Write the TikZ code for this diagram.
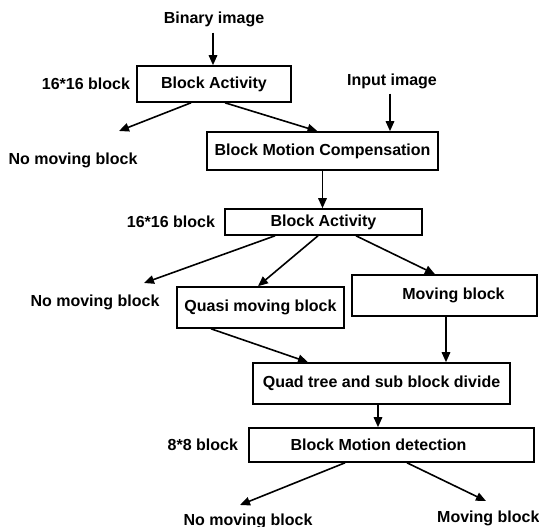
\documentclass[tikz,border=0pt]{standalone}
\usepackage{fontspec}
\setmainfont{Liberation Sans}
\usetikzlibrary{arrows.meta,calc}
\begin{document}
\begin{tikzpicture}[x=1pt,y=-1pt,
  every node/.style={font=\fontsize{16}{18}\selectfont\bfseries, inner sep=0pt},
  box/.style={draw, line width=1.6pt, anchor=center},
  arr/.style={line width=1.6pt, -{Triangle[length=10pt,width=8.5pt]}}]
\useasboundingbox (0,0) rectangle (539,527);
% nodes
\node (bin) at (214,19) {Binary image};
\node[box, minimum width=154pt, minimum height=36pt] (b1) at (214,84) {Block Activity};
\node[anchor=east] (l1) at ([xshift=-6pt]b1.west) {16*16 block};
\node (inp) at (392,81) {Input image};
\node (n1) at (73,160) {No moving block};
\coordinate (c1) at (119,131);
\node[box, minimum width=231pt, minimum height=38pt] (bmc) at (322.5,151) {Block Motion Compensation};
\node[box, minimum width=197pt, minimum height=26pt] (b2) at (323.5,222) {Block Activity};
\node[anchor=east] (l2) at ([xshift=-9pt]b2.west) {16*16 block};
\node (n2) at (95,302) {No moving block};
\coordinate (c2) at (144,283);
\node[box, minimum width=167pt, minimum height=41pt] (qm) at (260.5,307.5) {Quasi moving block};
\node[box, minimum width=185pt, minimum height=41pt] (mv) at (444.5,295.5) {\hspace*{18pt}Moving block};
\node[box, minimum width=257pt, minimum height=41pt] (qt) at (381.5,383.5) {Quad tree and sub block divide};
\node[box, minimum width=285pt, minimum height=34pt] (bmd) at (391.5,445) {Block Motion detection\hspace*{26pt}};
\node[anchor=east] (l3) at ([xshift=-10pt]bmd.west) {8*8 block};
\node (n3) at (248,521) {No moving block};
\node[anchor=west] (m3) at (437,518) {Moving block};
\coordinate (c3) at (240,505);
\coordinate (c4) at (486,501);
% connectors
\draw[arr] ([yshift=-6pt]bin.south -| 213,0) -- (b1.north -| 213,0);
\draw[arr] ([xshift=-23pt]b1.south) -- (c1);
\draw[arr] ([xshift=11pt]b1.south) -- ([xshift=-5pt]bmc.north);
\draw[arr] ([yshift=-5pt]inp.south -| 390,0) -- (bmc.north -| 390,0);
\draw[arr] (bmc.south) -- (b2.north -| bmc.south);
\draw[arr] ([xshift=-48.5pt]b2.south) -- (c2);
\draw[arr] ([xshift=-5.5pt]b2.south) -- ([xshift=-2.5pt]qm.north);
\draw[arr] ([xshift=32.5pt]b2.south) -- ([xshift=-9.5pt]mv.north);
\draw[arr] ([xshift=-49.5pt]qm.south) -- ([xshift=-73.5pt]qt.north);
\draw[arr] ([xshift=1.5pt]mv.south) -- ([xshift=1.5pt]mv.south |- qt.north);
\draw[arr] ([xshift=-3.5pt]qt.south) -- ([xshift=-3.5pt]qt.south |- bmd.north);
\draw[arr] ([xshift=-46.5pt]bmd.south) -- (c3);
\draw[arr] ([xshift=15.5pt]bmd.south) -- (c4);
\end{tikzpicture}
\end{document}
